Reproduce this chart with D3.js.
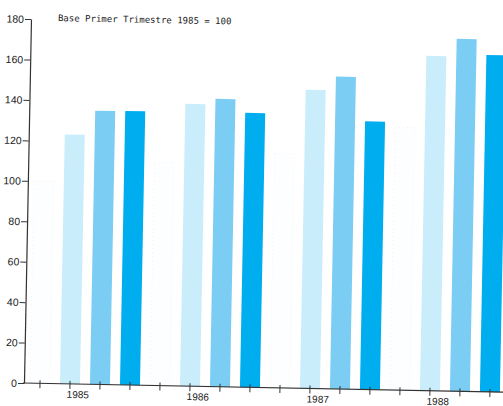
<!DOCTYPE html>
<html>
<head>
<meta charset="utf-8">
<script src="https://cdn.jsdelivr.net/npm/d3@7"></script>
<style>
  html, body { margin: 0; padding: 0; background: #fff; }
  svg { display: block; }
</style>
</head>
<body>
<svg id="chart" width="503" height="406"></svg>
<script>
// ---- data ----
const years = ["1985", "1986", "1987", "1988"];
const quarters = ["I", "II", "III", "IV"];
const q1 = [100, 110.6, 116, 130];
const q2 = [123.3, 139.6, 147.7, 165.6];
const q3 = [135.3, 142.3, 154.5, 174.3];
const q4 = [135.5, 135.7, 132.6, 166.6];
const yTicks = [0, 20, 40, 60, 80, 100, 120, 140, 160, 180];
const title = "Base Primer Trimestre 1985 = 100";

const series = [q1, q2, q3, q4];
const rows = [];
years.forEach((y, i) => quarters.forEach((q, j) => rows.push({ key: y + "-" + q, year: y, q: j, value: series[j][i] })));

const colors = ["#fcfeff", "#c9edfb", "#7ccdf4", "#00aeef"];

const svg = d3.select("#chart");
const ox = 24, oy = 383;
const g = svg.append("g").attr("transform", `rotate(1.1, ${ox}, ${oy})`);

const x = d3.scaleBand().domain(rows.map(d => d.key)).range([25, 505]).paddingInner(1/3).paddingOuter(1/6);
const y = d3.scaleLinear().domain([0, 180]).range([oy, 19]);

// bars
g.selectAll("rect.bar").data(rows).join("rect")
  .attr("class", "bar")
  .attr("x", d => x(d.key))
  .attr("y", d => y(d.value))
  .attr("width", x.bandwidth())
  .attr("height", d => y(0) - y(d.value))
  .attr("fill", d => colors[d.q])
  .attr("stroke", d => d.q === 0 ? "#eef2f4" : "none")
  .attr("stroke-dasharray", d => d.q === 0 ? "1,3" : null);

// y axis
const yAxis = g.append("g").attr("transform", `translate(${ox},0)`)
  .call(d3.axisLeft(y).tickValues(yTicks).tickSize(6).tickSizeOuter(0).tickPadding(1));
yAxis.select(".domain").attr("stroke", "#333").attr("stroke-width", 1.2);
yAxis.selectAll(".tick line").attr("stroke", "#333").attr("stroke-width", 1);
yAxis.selectAll(".tick text").attr("fill", "#222")
  .style("font-family", "'Liberation Sans', Arial, sans-serif").style("font-size", "10.5px");

// x axis
const xAxis = g.append("g").attr("transform", `translate(0,${oy})`)
  .call(d3.axisBottom(x).tickSize(5).tickSizeOuter(0).tickFormat(""));
xAxis.select(".domain").attr("d", `M${ox - 1},0H515`).attr("stroke", "#333").attr("stroke-width", 1.2);
xAxis.selectAll(".tick line").attr("y1", -3).attr("stroke", "#333").attr("stroke-width", 1);

// year labels
g.selectAll("text.year").data(years).join("text")
  .attr("class", "year")
  .attr("x", d => x(d + "-II") + x.bandwidth() / 2 + 8)
  .attr("y", oy + 14)
  .attr("text-anchor", "middle")
  .attr("fill", "#222")
  .style("font-family", "'Liberation Sans', Arial, sans-serif")
  .style("font-size", "10px")
  .text(d => d);

// title
g.append("text")
  .attr("x", 51).attr("y", 20.5)
  .attr("fill", "#222")
  .style("font-family", "'DejaVu Sans Mono', 'Liberation Mono', monospace")
  .style("font-size", "9px")
  .text(title);
</script>
</body>
</html>
